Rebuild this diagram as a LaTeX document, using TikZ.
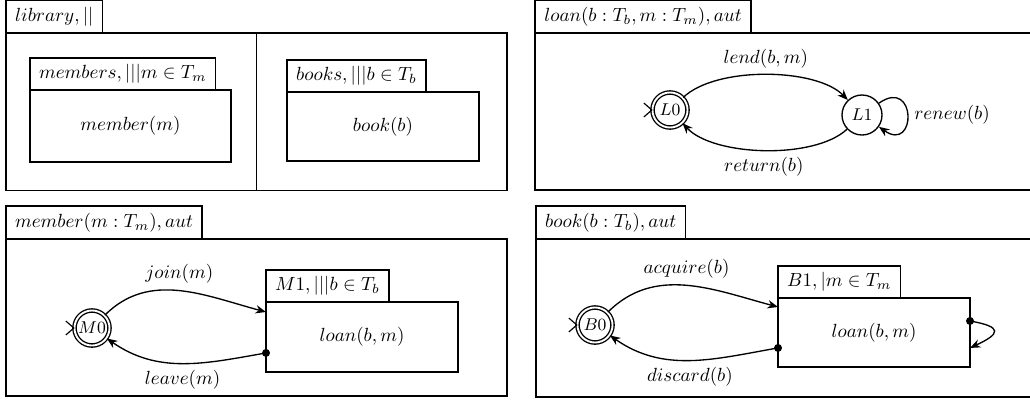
\documentclass[tikz,border=0pt]{standalone}
\usetikzlibrary{arrows.meta,positioning,calc}

\begin{document}
\begin{tikzpicture}[
  x=0.525pt,y=0.525pt,
  line width=0.7pt,
  box/.style={draw,inner sep=0pt,outer sep=0pt},
  tab/.style={draw,inner xsep=4.8pt,inner ysep=0pt,minimum height=17.3pt,outer sep=0pt},
  subtab/.style={tab,minimum height=16.8pt},
  st/.style={draw,circle,inner sep=0pt,minimum size=21pt,font=\small},
  acc/.style={st,double,double distance=1pt,minimum size=18.4pt},
  a/.style={-{Stealth[length=5.5pt,width=4.4pt]}},
  initmark/.style={line width=0.6pt}
]
\useasboundingbox (0,0) rectangle (1030,401);

% library
\node[box,minimum width=263pt,minimum height=82.7pt] (lib) at (256.5,289.25) {};
\node[tab,above right=0pt and 0pt of lib.north west] (libtab) {$library, ||$};
\draw (lib.north) -- (lib.south);
\node[box,minimum width=105.5pt,minimum height=37.8pt] (memb) at (130.5,275) {$member(m)$};
\node[subtab,above right=0pt and 0pt of memb.north west] (membtab) {$members, |||m \in T_m$};
\node[box,minimum width=100.8pt,minimum height=36.2pt] (bks) at (383,274.5) {$book(b)$};
\node[subtab,above right=0pt and 0pt of bks.north west] (bkstab) {$books, |||b \in T_b$};

% loan
\node[box,minimum width=265pt,minimum height=82.4pt] (loan) at (787.5,289.5) {};
\node[tab,above right=0pt and 0pt of loan.north west] (loantab) {$loan(b:T_b,m:T_m), aut$};
\node[acc] (l0) at (670,291) {$L0$};
\node[st] (l1) at (862,286) {$L1$};
\draw[initmark] ([shift={(-8,7)}]l0.west) -- (l0.west) -- ([shift={(-8,-7)}]l0.west);
\draw[a] (l0) to[bend left=45,looseness=0.7] node[above] {$lend(b,m)$} (l1);
\draw[a] (l1) to[bend left=45,looseness=0.7] node[below] {$return(b)$} (l0);
\draw[a] (l1) to[out=35,in=-35,looseness=5] node[right] {$renew(b)$} (l1);

% member
\node[box,minimum width=263pt,minimum height=82.4pt] (memaut) at (256.5,83.5) {};
\node[tab,above right=0pt and 0pt of memaut.north west] (memauttab) {$member(m:T_m), aut$};
\node[acc] (m0) at (92,73) {$M0$};
\node[box,minimum width=100.8pt,minimum height=36.75pt] (m1box) at (362,64) {$loan(b,m)$};
\node[subtab,above right=0pt and 0pt of m1box.north west] (m1tab) {$M1, |||b \in T_b$};
\coordinate (m1in) at ([yshift=-5.25pt]m1box.north west);
\coordinate (m1out) at ([yshift=10pt]m1box.south west);
\draw[initmark] ([shift={(-8,7)}]m0.west) -- (m0.west) -- ([shift={(-8,-7)}]m0.west);
\draw[a] (m0) to[out=45,in=165] node[above] {$join(m)$} (m1in);
\draw[a] (m1out) to[out=190,in=-35] node[below] {$leave(m)$} (m0);
\fill (m1out) circle (2.1pt);

% book
\node[box,minimum width=264.6pt,minimum height=83pt] (bookaut) at (788,83) {};
\node[tab,above right=0pt and 0pt of bookaut.north west] (bookauttab) {$book(b:T_b), aut$};
\node[acc] (b0) at (595,76) {$B0$};
\node[box,minimum width=100.8pt,minimum height=36.2pt] (b1box) at (874,68.5) {$loan(b,m)$};
\node[subtab,above right=0pt and 0pt of b1box.north west] (b1tab) {$B1, |m \in T_m$};
\coordinate (b1in) at ([yshift=-4.7pt]b1box.north west);
\coordinate (b1out) at ([yshift=10pt]b1box.south west);
\coordinate (b1s) at ([yshift=24.15pt]b1box.south east);
\coordinate (b1e) at ([yshift=10pt]b1box.south east);
\draw[initmark] ([shift={(-8,7)}]b0.west) -- (b0.west) -- ([shift={(-8,-7)}]b0.west);
\draw[a] (b0) to[out=45,in=165] node[above] {$acquire(b)$} (b1in);
\draw[a] (b1out) to[out=190,in=-35] node[below] {$discard(b)$} (b0);
\draw[a] (b1s) to[out=-10,in=25,looseness=3.2] (b1e);
\fill (b1out) circle (2.1pt);
\fill (b1s) circle (2.1pt);
\end{tikzpicture}
\end{document}
